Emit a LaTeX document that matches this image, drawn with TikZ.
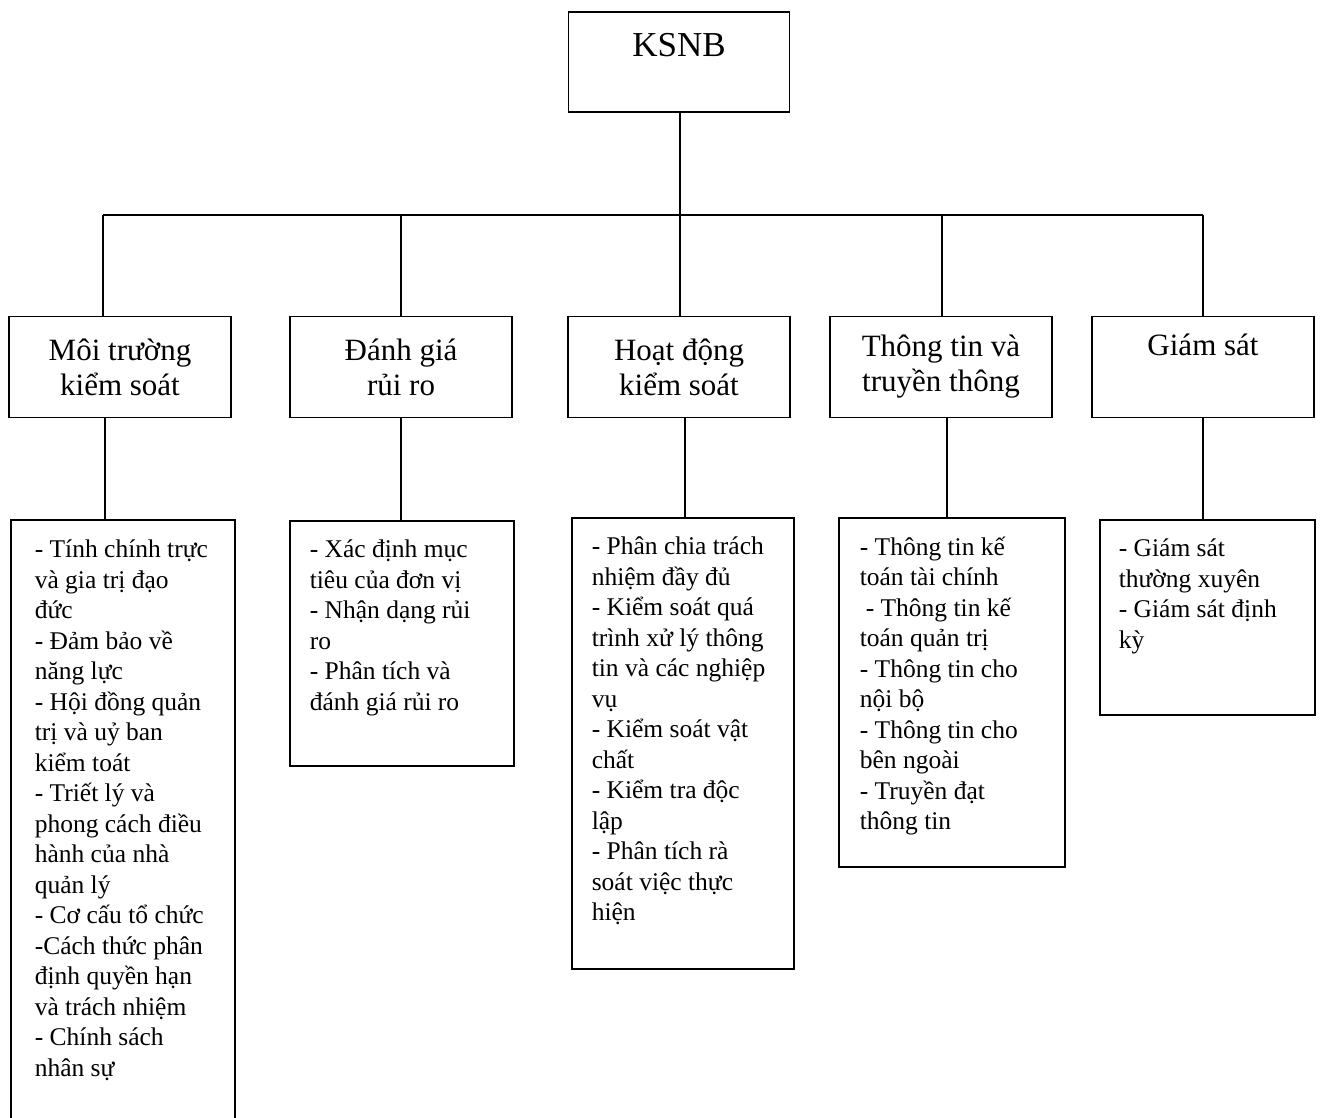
\documentclass[tikz,border=0pt]{standalone}
\usepackage{fontspec}
\setmainfont{Liberation Serif}
\usepackage{tikz}

\begin{document}
\begin{tikzpicture}[x=1pt,y=-1pt,line width=1.6pt,
  rootbox/.style={draw,minimum width=221pt,inner xsep=0pt,inner ysep=0pt,text height=44pt,text depth=56pt,font=\fontsize{35}{40}\selectfont},
  groupbox/.style={draw,minimum width=222pt,minimum height=101pt,align=center,font=\fontsize{31}{35}\selectfont},
  detailbox/.style={draw,anchor=north west,inner sep=0pt},
  itemtext/.style={anchor=north west,inner sep=0pt,align=left,font=\fontsize{25.5}{30.5}\selectfont}]
                    \useasboundingbox (0,0) rectangle (1322,1117);
                    \clip (0,0) rectangle (1322,1117);
                    \node[rootbox] (ksnb) at (679,62) {KSNB};
                    \node[groupbox] (g1) at (120,367) {Môi trường\\kiểm soát};
                    \node[groupbox] (g2) at (401,367) {Đánh giá\\rủi ro};
                    \node[groupbox] (g3) at (679,367) {Hoạt động\\kiểm soát};
                    \node[groupbox] (g4) at (941,367) {Thông tin và\\truyền thông};
                    \node[groupbox] (g5) at (1203,367) {Giám sát\\\strut};
                    \node[detailbox,minimum width=224pt,minimum height=640pt] (d1) at (10,519) {};
                    \node[detailbox,minimum width=224pt,minimum height=245pt] (d2) at (289,520) {};
                    \node[detailbox,minimum width=222pt,minimum height=451pt] (d3) at (571,517) {};
                    \node[detailbox,minimum width=226pt,minimum height=349pt] (d4) at (838,517) {};
                    \node[detailbox,minimum width=215pt,minimum height=195pt] (d5) at (1099,519) {};
                    \node[itemtext] (t1) at ([xshift=24pt,yshift=-20pt]d1.north west) {- Tính chính trực\\và gia trị đạo\\đức\\- Đảm bảo về\\năng lực\\- Hội đồng quản\\trị và uỷ ban\\kiểm toát\\- Triết lý và\\phong cách điều\\hành của nhà\\quản lý\\- Cơ cấu tổ chức\\-Cách thức phân\\định quyền hạn\\và trách nhiệm\\- Chính sách\\nhân sự};
                    \node[itemtext] (t2) at ([xshift=20pt,yshift=-19pt]d2.north west) {- Xác định mục\\tiêu của đơn vị\\- Nhận dạng rủi\\ro\\- Phân tích và\\đánh giá rủi ro};
                    \node[itemtext] (t3) at ([xshift=20pt,yshift=-19pt]d3.north west) {- Phân chia trách\\nhiệm đầy đủ\\- Kiểm soát quá\\trình xử lý thông\\tin và các nghiệp\\vụ\\- Kiểm soát vật\\chất\\- Kiểm tra độc\\lập\\- Phân tích rà\\soát việc thực\\hiện};
                    \node[itemtext] (t4) at ([xshift=21pt,yshift=-19pt]d4.north west) {- Thông tin kế\\toán tài chính\\\hspace{6pt}- Thông tin kế\\toán quản trị\\- Thông tin cho\\nội bộ\\- Thông tin cho\\bên ngoài\\- Truyền đạt\\thông tin};
                    \node[itemtext] (t5) at ([xshift=19pt,yshift=-19pt]d5.north west) {- Giám sát\\thường xuyên\\- Giám sát định\\kỳ};
                    \coordinate (bus) at (0,215);
                    \coordinate (u1) at (103,0);
                    \coordinate (u2) at (401,0);
                    \coordinate (u3) at (680,0);
                    \coordinate (u4) at (942,0);
                    \coordinate (u5) at (1203,0);
                    \coordinate (v1) at (105,0);
                    \coordinate (v2) at (401,0);
                    \coordinate (v3) at (685,0);
                    \coordinate (v4) at (947,0);
                    \coordinate (v5) at (1203,0);
                    \draw (u3 |- ksnb.south) -- (u3 |- bus);
                    \draw (u1 |- bus) -- (u5 |- bus);
                    \draw (u1 |- bus) -- (u1 |- g1.north);
                    \draw (u2 |- bus) -- (u2 |- g2.north);
                    \draw (u3 |- bus) -- (u3 |- g3.north);
                    \draw (u4 |- bus) -- (u4 |- g4.north);
                    \draw (u5 |- bus) -- (u5 |- g5.north);
                    \draw (v1 |- g1.south) -- (v1 |- d1.north);
                    \draw (v2 |- g2.south) -- (v2 |- d2.north);
                    \draw (v3 |- g3.south) -- (v3 |- d3.north);
                    \draw (v4 |- g4.south) -- (v4 |- d4.north);
                    \draw (v5 |- g5.south) -- (v5 |- d5.north);
                \end{tikzpicture}
\end{document}
